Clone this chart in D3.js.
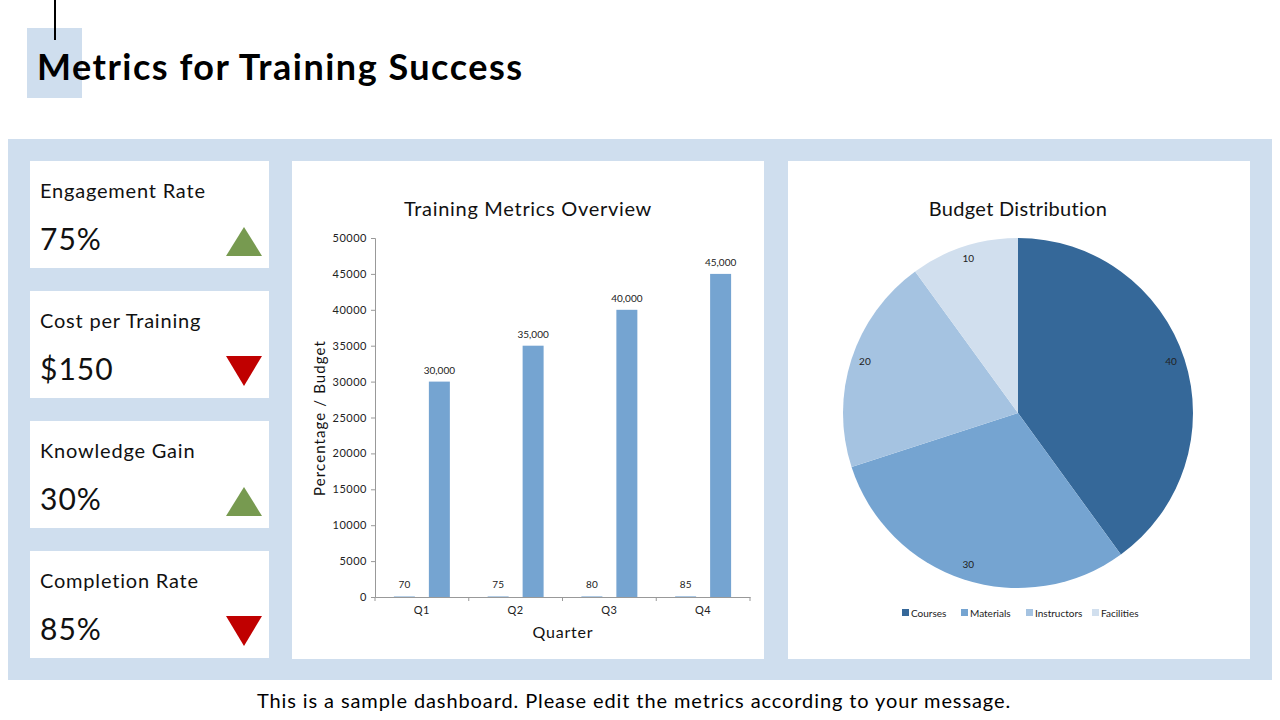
<!DOCTYPE html>
<html>
<head>
<meta charset="utf-8">
<script src="https://cdn.jsdelivr.net/npm/d3@7/dist/d3.min.js"></script>
<style>
  body { margin: 0; background: #fff; }
  svg { display: block; font-family: "Lato", "DejaVu Sans", sans-serif; }
</style>
</head>
<body>
<svg id="canvas"></svg>
<script>
var width = 1280,
	height = 720;

// data
var kpiNames = ["Engagement Rate", "Cost per Training", "Knowledge Gain", "Completion Rate"];
var kpiValues = ["75%", "$150", "30%", "85%"];
var kpiTrend = ["up", "down", "up", "down"];

var quarters = ["Q1", "Q2", "Q3", "Q4"];
var percentage = [70, 75, 80, 85];
var budget = [30000, 35000, 40000, 45000];
var yTicks = [0, 5000, 10000, 15000, 20000, 25000, 30000, 35000, 40000, 45000, 50000];

var pieNames = ["Courses", "Materials", "Instructors", "Facilities"];
var pieValues = [40, 30, 20, 10];
var pieColors = ["#356899", "#75a4d1", "#a5c3e1", "#d1dfee"];

var svg = d3.select("#canvas")
	.attr("width", width)
	.attr("height", height);

// heading
svg.append("rect").attr("x", 27).attr("y", 28).attr("width", 55).attr("height", 70).attr("fill", "#cfdeee");
svg.append("line").attr("x1", 55).attr("x2", 55).attr("y1", 0).attr("y2", 40)
	.attr("stroke", "#000").attr("stroke-width", 2);
svg.append("text").attr("x", 37).attr("y", 80)
	.attr("font-size", 36).attr("font-weight", "bold").attr("fill", "#000")
	.attr("letter-spacing", 1.5)
	.text("Metrics for Training Success");

// background band
svg.append("rect").attr("x", 8).attr("y", 139).attr("width", 1264).attr("height", 541).attr("fill", "#cfdeee");

// KPI cards
var cardY = d3.scaleLinear().domain([0, 1]).range([161, 291]);
var cards = svg.selectAll("g.card")
	.data(kpiNames)
	.enter()
	.append("g")
	.attr("class", "card")
	.attr("transform", function(d, i){ return "translate(30," + cardY(i) + ")"; });

cards.append("rect").attr("width", 239).attr("height", 107).attr("fill", "#fff");
cards.append("text").attr("x", 10).attr("y", 37).attr("font-size", 20).attr("fill", "#111")
	.attr("letter-spacing", 0.8)
	.text(function(d){ return d; });
cards.append("text").attr("x", 10).attr("y", 89).attr("font-size", 30).attr("fill", "#111")
	.attr("letter-spacing", 1)
	.text(function(d, i){ return kpiValues[i]; });
cards.append("path")
	.attr("d", function(d, i){
		return kpiTrend[i] == "up" ? "M196,95 L232,95 L214,66 Z" : "M196,65 L232,65 L214,95 Z";
	})
	.attr("fill", function(d, i){ return kpiTrend[i] == "up" ? "#779a50" : "#c00000"; });

// bar chart panel
svg.append("rect").attr("x", 292).attr("y", 161).attr("width", 472).attr("height", 498).attr("fill", "#fff");
svg.append("text").attr("x", 528).attr("y", 216).attr("text-anchor", "middle")
	.attr("font-size", 20).attr("fill", "#111").attr("letter-spacing", 0.7)
	.text("Training Metrics Overview");

var x = d3.scaleBand().domain(quarters).range([375, 750]);
var xSub = d3.scaleBand().domain(["pct", "budget"]).range([0, x.bandwidth()]).paddingInner(0.4).paddingOuter(0.54);
var y = d3.scaleLinear().domain([0, 50000]).range([597, 238]);

var xAxis = svg.append("g").attr("transform", "translate(0,597)")
	.call(d3.axisBottom(x).tickSize(0).tickPadding(9))
	.call(function(g){ g.select(".domain").attr("stroke", "#999"); });
xAxis.selectAll("text").attr("font-size", 11).attr("fill", "#222")
	.attr("font-family", "Lato, sans-serif").attr("letter-spacing", 0.5);

// category separators on the x axis
svg.append("g").selectAll("line")
	.data(x.domain().concat(["end"]))
	.enter()
	.append("line")
	.attr("x1", function(d, i){ return x.range()[0] + i * x.step(); })
	.attr("x2", function(d, i){ return x.range()[0] + i * x.step(); })
	.attr("y1", 597).attr("y2", 601).attr("stroke", "#999");

var yAxis = svg.append("g").attr("transform", "translate(375,0)")
	.call(d3.axisLeft(y).tickValues(yTicks).tickFormat(d3.format("d")).tickSize(4).tickPadding(4))
	.call(function(g){ g.select(".domain").attr("stroke", "#999"); g.selectAll("line").attr("stroke", "#999"); });
yAxis.selectAll("text").attr("font-size", 11).attr("fill", "#222")
	.attr("font-family", "Lato, sans-serif").attr("letter-spacing", 0.5);

svg.append("g").selectAll("rect")
	.data(budget)
	.enter()
	.append("rect")
	.attr("x", function(d, i){ return x(quarters[i]) + xSub("budget"); })
	.attr("y", function(d){ return y(d); })
	.attr("width", xSub.bandwidth())
	.attr("height", function(d){ return y(0) - y(d); })
	.attr("fill", "#75a4d1");

svg.append("g").selectAll("rect")
	.data(percentage)
	.enter()
	.append("rect")
	.attr("x", function(d, i){ return x(quarters[i]) + xSub("pct"); })
	.attr("y", function(d){ return y(d); })
	.attr("width", xSub.bandwidth())
	.attr("height", function(d){ return y(0) - y(d); })
	.attr("fill", "#75a4d1");

svg.append("g").selectAll("text")
	.data(budget)
	.enter()
	.append("text")
	.attr("x", function(d, i){ return x(quarters[i]) + xSub("budget") + xSub.bandwidth() / 2; })
	.attr("y", function(d){ return y(d) - 8; })
	.attr("text-anchor", "middle").attr("font-size", 10).attr("fill", "#222")
	.text(function(d){ return d3.format(",")(d); });

svg.append("g").selectAll("text")
	.data(percentage)
	.enter()
	.append("text")
	.attr("x", function(d, i){ return x(quarters[i]) + xSub("pct") + xSub.bandwidth() / 2; })
	.attr("y", function(d){ return y(d) - 8; })
	.attr("text-anchor", "middle").attr("font-size", 10).attr("fill", "#222")
	.text(function(d){ return d; });

svg.append("text").attr("x", 563).attr("y", 638).attr("text-anchor", "middle")
	.attr("font-size", 16).attr("fill", "#111").attr("letter-spacing", 0.8).text("Quarter");
svg.append("text").attr("transform", "translate(325,418) rotate(-90)").attr("text-anchor", "middle")
	.attr("font-size", 15).attr("fill", "#111").attr("letter-spacing", 1.1).text("Percentage / Budget");

// pie panel
svg.append("rect").attr("x", 788).attr("y", 161).attr("width", 462).attr("height", 498).attr("fill", "#fff");
svg.append("text").attr("x", 1018).attr("y", 216).attr("text-anchor", "middle")
	.attr("font-size", 20).attr("fill", "#111").attr("letter-spacing", 0.3)
	.text("Budget Distribution");

var radius = 175;
var pie = d3.pie().sort(null)(pieValues);
var arc = d3.arc().innerRadius(0).outerRadius(radius);
var labelArc = d3.arc().innerRadius(radius * 0.92).outerRadius(radius * 0.92);

var pieG = svg.append("g").attr("transform", "translate(1018,413)");
pieG.selectAll("path")
	.data(pie)
	.enter()
	.append("path")
	.attr("d", arc)
	.attr("fill", function(d, i){ return pieColors[i]; });
pieG.selectAll("text")
	.data(pie)
	.enter()
	.append("text")
	.attr("transform", function(d){ return "translate(" + labelArc.centroid(d) + ")"; })
	.attr("text-anchor", "middle").attr("dy", "0.2em")
	.attr("font-size", 10).attr("fill", "#222")
	.text(function(d){ return d.value; });

// legend
var legendX = [902, 961, 1026, 1092];
var legend = svg.append("g").selectAll("g")
	.data(pieNames)
	.enter()
	.append("g")
	.attr("transform", function(d, i){ return "translate(" + legendX[i] + ",613)"; });
legend.append("rect").attr("x", 0).attr("y", -4).attr("width", 7).attr("height", 7)
	.attr("fill", function(d, i){ return pieColors[i]; });
legend.append("text").attr("x", 9).attr("y", 0).attr("dy", "0.35em")
	.attr("font-size", 10).attr("fill", "#222").text(function(d){ return d; });

// footer
svg.append("text").attr("x", 634).attr("y", 708).attr("text-anchor", "middle")
	.attr("font-size", 20).attr("fill", "#000").attr("letter-spacing", 0.9)
	.text("This is a sample dashboard. Please edit the metrics according to your message.");
</script>
</body>
</html>
